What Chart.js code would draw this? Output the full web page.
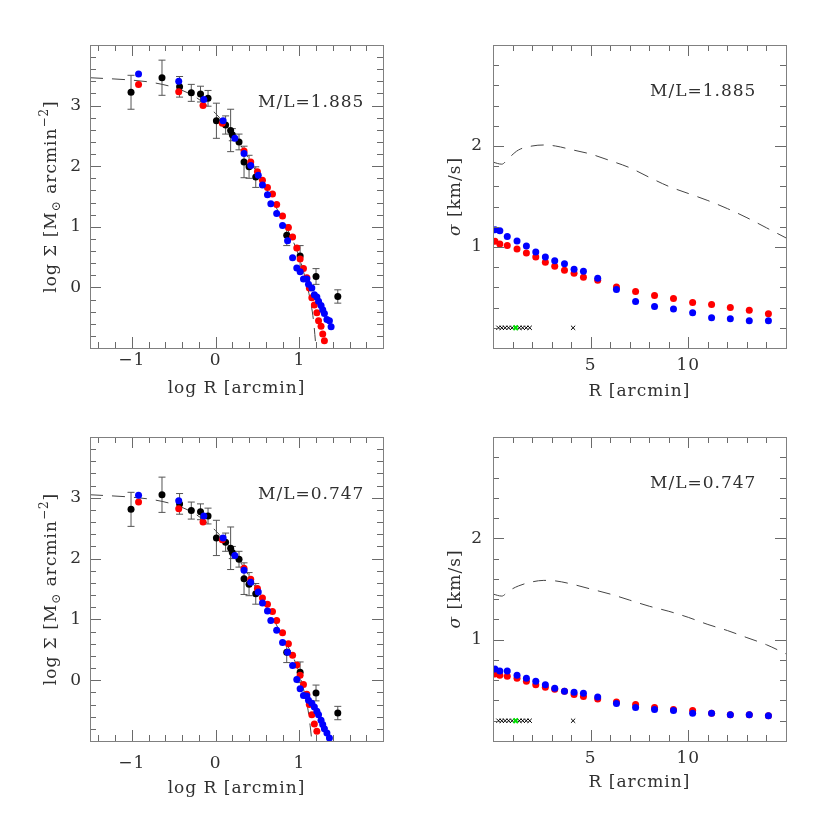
<!DOCTYPE html>
<html lang="en">
<head>
<meta charset="UTF-8">
<title>Surface density and velocity dispersion profiles</title>
<script src="https://cdn.jsdelivr.net/npm/chart.js"></script>
<style>
  body { margin: 0; background: #fff; }
  #wrap { position: relative; width: 830px; height: 830px; }
  canvas { position: absolute; }
</style>
</head>
<body>
<div id="wrap">
  <canvas id="sbTop" width="415" height="415" style="left:0;top:0"></canvas>
  <canvas id="sigTop" width="415" height="415" style="left:415px;top:0"></canvas>
  <canvas id="sbBot" width="415" height="415" style="left:0;top:415px"></canvas>
  <canvas id="sigBot" width="415" height="415" style="left:415px;top:415px"></canvas>
</div>
<script>
// ---- surface density panels (log R vs log Sigma) ----
const obsLogR = [-1.01, -0.64, -0.43, -0.29, -0.18, -0.09, 0.01, 0.12, 0.18, 0.20, 0.28, 0.34, 0.40, 0.48, 0.85, 1.01, 1.20, 1.46];
const obsErr = [0.28, 0.29, 0.17, 0.14, 0.13, 0.13, 0.29, 0.15, 0.35, 0.10, 0.13, 0.26, 0.19, 0.17, 0.17, 0.17, 0.13, 0.11];
const obsTop = [3.22, 3.46, 3.31, 3.21, 3.19, 3.12, 2.75, 2.68, 2.59, 2.52, 2.40, 2.07, 1.99, 1.82, 0.86, 0.52, 0.18, -0.15];
const obsBot = [2.81, 3.05, 2.90, 2.79, 2.77, 2.70, 2.34, 2.27, 2.17, 2.10, 1.99, 1.67, 1.58, 1.42, 0.46, 0.13, -0.21, -0.54];

const redLogR = [-0.92, -0.44, -0.15, 0.08, 0.34, 0.42, 0.50, 0.56, 0.62, 0.68, 0.73, 0.80, 0.87, 0.92, 0.97, 1.01, 1.05, 1.09, 1.12, 1.15, 1.18, 1.21, 1.23, 1.26, 1.28, 1.30];
const redTop = [3.35, 3.23, 3.00, 2.71, 2.25, 2.07, 1.91, 1.77, 1.65, 1.54, 1.37, 1.18, 0.99, 0.83, 0.65, 0.47, 0.31, 0.16, -0.01, -0.17, -0.29, -0.42, -0.55, -0.64, -0.77, -0.88];
const redBot = [2.93, 2.82, 2.60, 2.31, 1.84, 1.66, 1.51, 1.35, 1.25, 1.13, 0.98, 0.78, 0.60, 0.41, 0.25, 0.08, -0.07, -0.23, -0.40, -0.57, -0.72, -0.84];

const blueLogR = [-0.92, -0.44, -0.14, 0.09, 0.23, 0.34, 0.42, 0.51, 0.56, 0.62, 0.66, 0.73, 0.80, 0.86, 0.92, 0.97, 1.01, 1.05, 1.09, 1.11, 1.15, 1.18, 1.21, 1.23, 1.26, 1.28, 1.30, 1.33, 1.36, 1.38];
const blueTop = [3.52, 3.40, 3.10, 2.75, 2.46, 2.21, 2.01, 1.85, 1.69, 1.53, 1.38, 1.22, 1.02, 0.77, 0.49, 0.32, 0.26, 0.14, 0.14, 0.05, -0.01, -0.12, -0.16, -0.23, -0.30, -0.37, -0.43, -0.53, -0.55, -0.65];
const blueBot = [3.04, 2.95, 2.70, 2.34, 2.05, 1.81, 1.61, 1.45, 1.27, 1.14, 0.98, 0.82, 0.62, 0.46, 0.24, 0.01, -0.14, -0.25, -0.26, -0.33, -0.38, -0.44, -0.51, -0.57, -0.66, -0.73, -0.80, -0.87, -0.95];

const modelLogRTop = [-1.5, -1.0, -0.75, -0.5, -0.25, 0, 0.25, 0.5, 0.75, 1.0, 1.08, 1.13, 1.17, 1.2];
const modelSbTop = [3.46, 3.42, 3.38, 3.30, 3.15, 2.87, 2.45, 1.88, 1.25, 0.5, 0.1, -0.2, -0.55, -1.0];
const modelLogRBot = [-1.5, -1.0, -0.75, -0.5, -0.25, 0, 0.25, 0.5, 0.75, 1.0, 1.06, 1.1, 1.13, 1.15];
const modelSbBot = [3.05, 3.01, 2.97, 2.89, 2.74, 2.46, 2.04, 1.47, 0.85, 0.12, -0.2, -0.45, -0.75, -1.0];

const sbTicksX = [-1, 0, 1];
const sbTicksY = [0, 1, 2, 3];

// ---- dispersion panels (R vs sigma) ----
const sigR = [0.1, 0.35, 0.73, 1.23, 1.71, 2.19, 2.68, 3.16, 3.66, 4.15, 4.63, 5.36, 6.32, 7.30, 8.27, 9.24, 10.22, 11.19, 12.15, 13.12, 14.1];
const sigBlueTop = [1.17, 1.16, 1.105, 1.06, 1.01, 0.95, 0.90, 0.865, 0.835, 0.78, 0.76, 0.69, 0.58, 0.46, 0.41, 0.385, 0.35, 0.30, 0.29, 0.27, 0.27];
const sigRedTop = [1.056, 1.03, 1.016, 0.98, 0.94, 0.90, 0.85, 0.81, 0.77, 0.74, 0.70, 0.67, 0.605, 0.56, 0.52, 0.49, 0.45, 0.43, 0.40, 0.375, 0.34];
const sigBlueBot = [0.71, 0.69, 0.69, 0.65, 0.62, 0.59, 0.555, 0.52, 0.49, 0.48, 0.47, 0.435, 0.37, 0.33, 0.31, 0.30, 0.275, 0.275, 0.26, 0.26, 0.25];
const sigRedBot = [0.66, 0.65, 0.64, 0.62, 0.59, 0.555, 0.53, 0.51, 0.49, 0.46, 0.44, 0.415, 0.385, 0.36, 0.33, 0.31, 0.30, 0.275, 0.26, 0.26, 0.25];

const modelR = [0, 0.45, 0.8, 1.3, 2, 2.6, 3.2, 4, 5, 6, 7, 8, 9, 10, 11, 12, 13, 14, 15];
const modelSigTop = [1.84, 1.82, 1.88, 1.96, 2.0, 2.01, 2.0, 1.965, 1.92, 1.855, 1.785, 1.69, 1.60, 1.53, 1.46, 1.38, 1.29, 1.19, 1.09];
const modelSigBot = [1.45, 1.43, 1.48, 1.53, 1.57, 1.585, 1.58, 1.55, 1.50, 1.45, 1.39, 1.33, 1.28, 1.22, 1.15, 1.09, 1.02, 0.95, 0.86];

const starR = [0.28, 0.45, 0.62, 0.80, 0.98, 1.35, 1.52, 1.70, 1.88, 4.1];
const starGreenR = [1.16];
const starLevel = 0.2;

const sigTicksX = [5, 10];
const sigTicksY = [1, 2];

const mlLabels = ['M/L=1.885', 'M/L=0.747'];

// ---------------------------------------------------------------
const FONT = 'DejaVu Serif';
const FSIZE = 17;
const TXT = '#303030';

function pts(xs, ys) {
  const out = [];
  for (let i = 0; i < ys.length; i++) out.push({ x: xs[i], y: ys[i] });
  return out;
}

function fmt(v) {
  return v < 0 ? '\u2212' + Math.abs(v) : String(v);
}

function drawRotated(ctx, pieces, x, yc) {
  ctx.save();
  ctx.translate(x, yc);
  ctx.rotate(-Math.PI / 2);
  ctx.fillStyle = TXT;
  ctx.textBaseline = 'alphabetic';
  ctx.textAlign = 'left';
  let total = 0;
  pieces.forEach(p => { ctx.font = p.font; total += ctx.measureText(p.t).width; });
  let cx = -total / 2;
  pieces.forEach(p => {
    ctx.font = p.font;
    ctx.fillText(p.t, cx, p.dy || 0);
    cx += ctx.measureText(p.t).width;
  });
  ctx.restore();
}

// frame with inward ticks on all four sides, panel label and y title
const framePlugin = {
  id: 'frame',
  beforeDraw(chart) {
    chart.ctx.letterSpacing = '1px';
  },
  beforeDatasetsDraw(chart, args, opts) {
    if (!opts.err) return;
    const { ctx, chartArea: a } = chart;
    const xs = chart.scales.x, ys = chart.scales.y;
    ctx.save();
    ctx.beginPath();
    ctx.rect(a.left, a.top, a.right - a.left, a.bottom - a.top);
    ctx.clip();
    ctx.strokeStyle = '#555';
    ctx.lineWidth = 1;
    opts.err.y.forEach((v, i) => {
      const px = xs.getPixelForValue(opts.err.x[i]);
      const hi = ys.getPixelForValue(v + opts.err.e[i]);
      const lo = ys.getPixelForValue(v - opts.err.e[i]);
      ctx.beginPath();
      ctx.moveTo(px, hi); ctx.lineTo(px, lo);
      ctx.moveTo(px - 3.5, hi); ctx.lineTo(px + 3.5, hi);
      ctx.moveTo(px - 3.5, lo); ctx.lineTo(px + 3.5, lo);
      ctx.stroke();
    });
    ctx.restore();
  },
  afterDraw(chart, args, opts) {
    const { ctx, chartArea: a } = chart;
    const xs = chart.scales.x, ys = chart.scales.y;
    ctx.save();
    ctx.strokeStyle = '#6a6a6a';
    ctx.lineWidth = 1;
    const tick = (scale, step, majorStep, horiz) => {
      const n0 = Math.ceil(scale.min / step - 1e-6), n1 = Math.floor(scale.max / step + 1e-6);
      for (let n = n0; n <= n1; n++) {
        const v = n * step;
        const major = Math.abs(v / majorStep - Math.round(v / majorStep)) < 1e-6;
        const l = major ? 11 : 6;
        const p = Math.round(scale.getPixelForValue(v)) + 0.5;
        ctx.beginPath();
        if (horiz) {
          ctx.moveTo(p, a.bottom); ctx.lineTo(p, a.bottom - l);
          ctx.moveTo(p, a.top); ctx.lineTo(p, a.top + l);
        } else {
          ctx.moveTo(a.left, p); ctx.lineTo(a.left + l, p);
          ctx.moveTo(a.right, p); ctx.lineTo(a.right - l, p);
        }
        ctx.stroke();
      }
    };
    tick(xs, opts.minor[0], opts.major[0], true);
    tick(ys, opts.minor[1], opts.major[1], false);
    ctx.strokeStyle = '#808080';
    ctx.strokeRect(Math.round(a.left) + 0.5, Math.round(a.top) + 0.5,
      Math.round(a.right - a.left), Math.round(a.bottom - a.top));
    ctx.restore();

    ctx.save();
    ctx.fillStyle = TXT;
    ctx.font = FSIZE + 'px "' + FONT + '"';
    ctx.textBaseline = 'alphabetic';
    ctx.fillText(opts.label, a.left + opts.labelPos[0], a.top + opts.labelPos[1]);
    ctx.restore();

    drawRotated(ctx, opts.yTitle, opts.yTitleX, (a.top + a.bottom) / 2);
  }
};

function makePanel(id, o) {
  const font = { family: FONT, size: FSIZE };
  const axisTicks = pad => ({
    autoSkip: false, maxRotation: 0, padding: pad, color: TXT, font,
    callback: v => fmt(v)
  });
  return new Chart(document.getElementById(id), {
    type: 'scatter',
    data: { datasets: o.datasets },
    options: {
      responsive: false,
      animation: false,
      events: [],
      layout: { padding: { top: o.frame.top, right: o.frame.right, left: 0, bottom: 0 } },
      scales: {
        x: {
          type: 'linear', min: o.x[0], max: o.x[1],
          ticks: axisTicks(o.tickPadX),
          afterBuildTicks(s) { s.ticks = o.xTicks.map(v => ({ value: v })); },
          grid: { display: false, drawTicks: false },
          border: { display: false },
          title: { display: true, text: o.xTitle, color: TXT, font, padding: { top: 0, bottom: o.titlePadX } },
          afterFit(s) { s.height = o.frame.xh; }
        },
        y: {
          type: 'linear', min: o.y[0], max: o.y[1],
          ticks: axisTicks(o.tickPadY),
          afterBuildTicks(s) { s.ticks = o.yTicks.map(v => ({ value: v })); },
          grid: { display: false, drawTicks: false },
          border: { display: false },
          afterFit(s) { s.width = o.frame.yw; }
        }
      },
      plugins: {
        legend: { display: false },
        tooltip: { enabled: false },
        frame: {
          major: o.major, minor: o.minor,
          label: o.label, labelPos: o.labelPos,
          yTitle: o.yTitle, yTitleX: o.yTitleX,
          err: o.err
        }
      }
    },
    plugins: [framePlugin]
  });
}

const dots = (data, color) => ({ data, backgroundColor: color, borderWidth: 0, pointRadius: 3.5 });
const dashed = data => ({
  type: 'line', data, showLine: true, borderColor: '#444', borderWidth: 1,
  borderDash: [13, 9], pointRadius: 0, fill: false, cubicInterpolationMode: 'monotone'
});

const normal = FSIZE + 'px "' + FONT + '"';
const small = '12px "' + FONT + '"';
const sbTitle = [
  { t: 'log \u03A3 [M', font: normal },
  { t: '\u2299', font: small, dy: 4 },
  { t: ' arcmin', font: normal },
  { t: '\u22122', font: small, dy: -8 },
  { t: ']', font: normal }
];
const sigTitle = [
  { t: '\u03C3', font: 'italic ' + normal },
  { t: ' [km/s]', font: normal }
];

function sbPanel(id, obsY, redY, blueY, mX, mY, label, frame, tickPadX, titlePadX) {
  makePanel(id, {
    datasets: [
      dots(pts(blueLogR, blueY), '#0000ff'),
      dots(pts(redLogR, redY), '#ff0000'),
      dots(pts(obsLogR, obsY), '#000000'),
      dashed(pts(mX, mY))
    ],
    x: [-1.5, 2], y: [-1, 4], major: [1, 1], minor: [0.2, 0.2],
    xTicks: sbTicksX, yTicks: sbTicksY,
    frame, tickPadX, titlePadX, tickPadY: 8,
    xTitle: 'log R [arcmin]',
    label, labelPos: [168, 62],
    yTitle: sbTitle, yTitleX: 56,
    err: { x: obsLogR, y: obsY, e: obsErr }
  });
}

function sigPanel(id, redY, blueY, mY, label, frame, tickPadX, titlePadX) {
  makePanel(id, {
    datasets: [
      { data: pts(starGreenR, [starLevel]), pointStyle: 'crossRot', pointRadius: 3.2, borderColor: '#00dd00', borderWidth: 2 },
      { data: pts(starR, starR.map(() => starLevel)), pointStyle: 'crossRot', pointRadius: 3, borderColor: '#000', borderWidth: 1 },
      dots(pts(sigR, blueY), '#0000ff'),
      dots(pts(sigR, redY), '#ff0000'),
      dashed(pts(modelR, mY))
    ],
    x: [0, 15], y: [0, 3], major: [5, 1], minor: [1, 0.2],
    xTicks: sigTicksX, yTicks: sigTicksY,
    frame, tickPadX, titlePadX, tickPadY: 10,
    xTitle: 'R [arcmin]',
    label, labelPos: [157, 51],
    yTitle: sigTitle, yTitleX: 45
  });
}

sbPanel('sbTop', obsTop, redTop, blueTop, modelLogRTop, modelSbTop, mlLabels[0],
  { top: 45, right: 32, yw: 90, xh: 67 }, 2, 16);
sigPanel('sigTop', sigRedTop, sigBlueTop, modelSigTop, mlLabels[0],
  { top: 45, right: 44, yw: 78, xh: 67 }, 7, 13);
sbPanel('sbBot', obsBot, redBot, blueBot, modelLogRBot, modelSbBot, mlLabels[1],
  { top: 22, right: 32, yw: 90, xh: 89 }, 12, 31);
sigPanel('sigBot', sigRedBot, sigBlueBot, modelSigBot, mlLabels[1],
  { top: 22, right: 44, yw: 78, xh: 89 }, 7, 37);
</script>
</body>
</html>
